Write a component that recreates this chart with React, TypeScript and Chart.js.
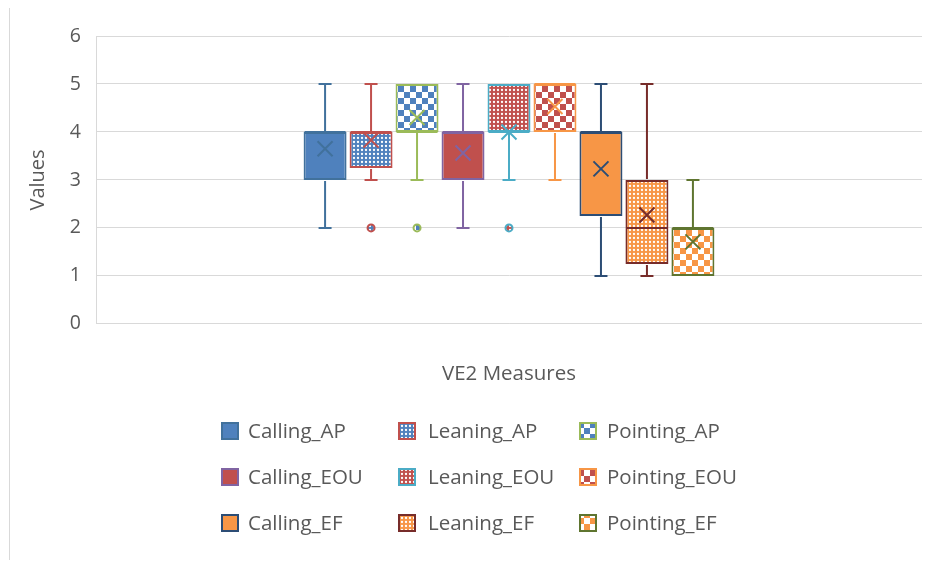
import React, { useEffect, useRef } from "react";
import { Chart, registerables } from "chart.js";

Chart.register(...registerables);

// ---- data ----
const seriesNames = [
  "Calling_AP", "Leaning_AP", "Pointing_AP",
  "Calling_EOU", "Leaning_EOU", "Pointing_EOU",
  "Calling_EF", "Leaning_EF", "Pointing_EF",
];
const mins = [2, 3, 3, 2, 3, 3, 1, 1, 1];
const q1s = [3, 3.25, 4, 3, 4, 4, 2.25, 1.25, 1];
const medians = [4, 4, 4, 4, 4, 5, 4, 2, 2];
const q3s = [4, 4, 5, 4, 5, 5, 4, 3, 2];
const maxs = [5, 5, 5, 5, 5, 5, 5, 5, 3];
const means = [3.65, 3.83, 4.3, 3.56, 4.0, 4.53, 3.23, 2.27, 1.71];
const outliers: number[][] = [[], [2], [2], [], [2], [], [], [], []];
const categories = [""];
const yTicks = [0, 1, 2, 3, 4, 5, 6];

// ---- styles ----
const fillColors = ["#4F81BD", "#4F81BD", "#4F81BD", "#C0504D", "#C0504D", "#C0504D", "#F79646", "#F79646", "#F79646"];
const fillKinds = ["solid", "dots", "checker", "solid", "dots", "checker", "solid", "dots", "checker"];
const borderColors = ["#41719C", "#C0504D", "#9BBB59", "#8064A2", "#4BACC6", "#F79646", "#2C4D75", "#772C2A", "#5F7530"];

const FONT = '"Open Sans", "DejaVu Sans", sans-serif';
const TEXT = "#595959";
const GRID = "#d9d9d9";

function makeFill(kind: string, color: string): any {
  if (kind === "solid") return color;
  const c = document.createElement("canvas");
  const ctx = c.getContext("2d")!;
  if (kind === "checker") {
    const s = 6;
    c.width = s * 2; c.height = s * 2;
    ctx.fillStyle = "#ffffff";
    ctx.fillRect(0, 0, s * 2, s * 2);
    ctx.fillStyle = color;
    ctx.fillRect(0, 0, s, s);
    ctx.fillRect(s, s, s, s);
  } else {
    c.width = 4; c.height = 4;
    ctx.fillStyle = color;
    ctx.fillRect(0, 0, 4, 4);
    ctx.fillStyle = "#ffffff";
    ctx.beginPath(); ctx.arc(2, 2, 1.15, 0, Math.PI * 2); ctx.fill();
  }
  return ctx.createPattern(c, "repeat");
}

const boxExtras = {
  id: "boxExtras",
  afterDatasetsDraw(chart: any) {
    const ctx = chart.ctx;
    const y = chart.scales.y;
    chart.data.datasets.forEach((ds: any, i: number) => {
      const bar = chart.getDatasetMeta(i).data[0];
      if (!bar) return;
      const x = bar.x;
      const w = bar.width;
      const col = borderColors[i];
      const cap = 6.5;
      ctx.save();
      ctx.strokeStyle = col;
      ctx.lineWidth = 2;
      ctx.lineCap = "butt";
      const pQ1 = y.getPixelForValue(q1s[i]);
      const pQ3 = y.getPixelForValue(q3s[i]);
      if (maxs[i] > q3s[i]) {
        const pMax = y.getPixelForValue(maxs[i]);
        ctx.beginPath();
        ctx.moveTo(x, pQ3 - 1); ctx.lineTo(x, pMax);
        ctx.moveTo(x - cap, pMax); ctx.lineTo(x + cap, pMax);
        ctx.stroke();
      }
      if (mins[i] < q1s[i]) {
        const pMin = y.getPixelForValue(mins[i]);
        ctx.beginPath();
        ctx.moveTo(x, pQ1 + 1); ctx.lineTo(x, pMin);
        ctx.moveTo(x - cap, pMin); ctx.lineTo(x + cap, pMin);
        ctx.stroke();
      }
      // median
      const pMed = y.getPixelForValue(medians[i]);
      ctx.beginPath();
      ctx.moveTo(x - w / 2 + 1, pMed); ctx.lineTo(x + w / 2 - 1, pMed);
      ctx.stroke();
      // mean marker
      const pMean = y.getPixelForValue(means[i]);
      const m = 7.5;
      ctx.beginPath();
      ctx.moveTo(x - m, pMean - m); ctx.lineTo(x + m, pMean + m);
      ctx.moveTo(x - m, pMean + m); ctx.lineTo(x + m, pMean - m);
      ctx.stroke();
      // outliers
      outliers[i].forEach((v) => {
        const py = y.getPixelForValue(v);
        ctx.beginPath();
        ctx.arc(x, py, 3.5, 0, Math.PI * 2);
        ctx.fillStyle = ds.backgroundColor;
        ctx.fill();
        ctx.stroke();
      });
      ctx.restore();
    });
  },
};

const frameAndLegend = {
  id: "frameAndLegend",
  beforeDraw(chart: any) {
    const ctx = chart.ctx;
    ctx.save();
    ctx.strokeStyle = GRID;
    ctx.lineWidth = 1;
    ctx.beginPath();
    ctx.moveTo(1.5, 0); ctx.lineTo(1.5, chart.height);
    ctx.stroke();
    ctx.restore();
  },
  afterDraw(chart: any) {
    const ctx = chart.ctx;
    const colSwatch = [213, 390, 571];
    const colText = [240, 420, 599];
    const rowY = [423, 469, 515];
    const size = 18;
    ctx.save();
    ctx.font = `20.5px ${FONT}`;
    ctx.textBaseline = "middle";
    ctx.textAlign = "left";
    chart.data.datasets.forEach((ds: any, i: number) => {
      const r = Math.floor(i / 3);
      const c = i % 3;
      const sx = colSwatch[c];
      const sy = rowY[r] - size / 2;
      ctx.fillStyle = ds.backgroundColor;
      ctx.fillRect(sx, sy, size, size);
      ctx.strokeStyle = borderColors[i];
      ctx.lineWidth = 2;
      ctx.strokeRect(sx + 1, sy + 1, size - 2, size - 2);
      ctx.fillStyle = TEXT;
      ctx.fillText(ds.label, colText[c], rowY[r] + 1);
    });
    ctx.restore();
  },
};

export default function App() {
  const ref = useRef<HTMLCanvasElement>(null);
  useEffect(() => {
    if (!ref.current) return;
    const datasets = seriesNames.map((name, i) => ({
      label: name,
      data: [[q1s[i], q3s[i]]],
      backgroundColor: makeFill(fillKinds[i], fillColors[i]),
      borderColor: borderColors[i],
      borderWidth: 2,
      borderSkipped: false,
      categoryPercentage: 0.501,
      barPercentage: 0.935,
    }));
    const chart = new Chart(ref.current, {
      type: "bar",
      data: { labels: categories, datasets: datasets as any },
      options: {
        responsive: false,
        animation: false,
        layout: { padding: { top: 28, bottom: 173.6, left: 0, right: 0 } },
        plugins: { legend: { display: false }, tooltip: { enabled: false } },
        scales: {
          x: {
            grid: { display: false },
            border: { display: true, color: GRID, width: 1 },
            ticks: { display: false },
            title: {
              display: true,
              text: "VE2 Measures",
              color: TEXT,
              font: { family: FONT, size: 20.5 },
              padding: { top: 0, bottom: 0 },
            },
            afterFit: (s: any) => { s.height = 62.5; },
          },
          y: {
            min: 0,
            max: 6,
            afterBuildTicks: (s: any) => { s.ticks = yTicks.map((v) => ({ value: v })); },
            grid: { color: GRID, drawTicks: false, lineWidth: 1 },
            border: { display: true, color: GRID, width: 1 },
            ticks: { color: TEXT, padding: 15, font: { family: FONT, size: 19.5 } },
            title: {
              display: true,
              text: "Values",
              color: TEXT,
              font: { family: FONT, size: 20 },
              padding: { top: 18, bottom: 0 },
            },
            afterFit: (s: any) => { s.width = 88; },
          },
        },
      },
      plugins: [boxExtras, frameAndLegend],
    });
    return () => chart.destroy();
  }, []);
  return (
    <div style={{ width: 914, height: 552 }}>
      <canvas ref={ref} width={914} height={552} />
    </div>
  );
}
